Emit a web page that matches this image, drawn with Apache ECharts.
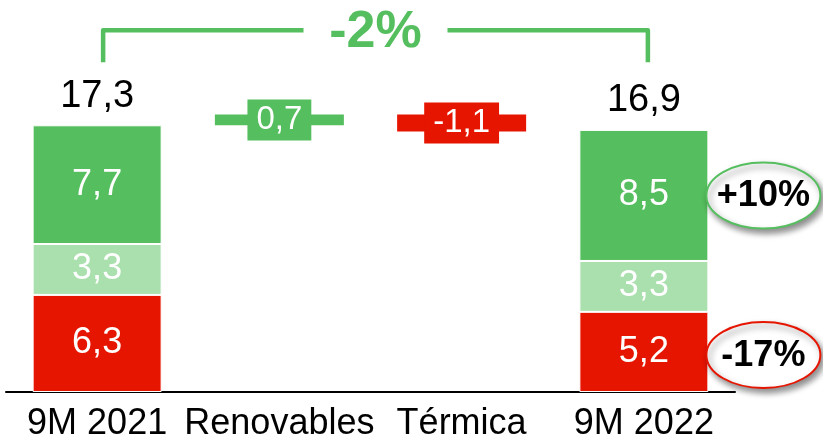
<!DOCTYPE html>
<html>
<head>
<meta charset="utf-8">
<script src="https://cdn.jsdelivr.net/npm/echarts@6/dist/echarts.min.js"></script>
<style>
html,body{margin:0;padding:0;background:#fff}
#main{width:823px;height:443px}
</style>
</head>
<body>
<div id="main"></div>
<script>
//datos del grafico
var categories=['9M 2021','Renovables','Térmica','9M 2022'];
var termica=[6.3,'-','-',5.2];
var nuclear=[3.3,'-','-',3.3];
var renovables=[7.7,'-','-',8.5];
var totals=[17.3,'-','-',16.9];
var bridge=['-',0.7,-1.1,'-'];
var pctTotal='-2%';
var pctRenov='+10%';
var pctTermica='-17%';

var VERDE='#55be5e';
var VERDE_CLARO='#aadfae';
var ROJO='#e61500';
var FONT='"Liberation Sans", Arial, sans-serif';

function fmt(v){
	return v.toFixed(1).replace('.',',');
}

/*
*base invisible del puente
*/
var bridgeBase=[];
var bridgeBars=[];
var running=totals[0];
for(var i=0;i<categories.length;i++){
	var d=bridge[i];
	if(d==='-'){
		bridgeBase.push('-');
		bridgeBars.push('-');
		continue;
	}
	var col=d>=0?VERDE:ROJO;
	bridgeBase.push(d>=0?running:running+d);
	bridgeBars.push({value:Math.abs(d),itemStyle:{color:col},label:{backgroundColor:col}});
	running+=d;
}
var topZero=totals.map(function(t){return t==='-'?'-':0;});

var segLabel={
	show:true,
	position:'inside',
	color:'#fff',
	fontFamily:FONT,
	fontSize:36,
	formatter:function(p){return fmt(p.value);}
};

var chart=echarts.init(document.getElementById('main'));
var option={
	animation:false,
	grid:{left:6,right:88,top:22,bottom:51},
	xAxis:{
		type:'category',
		data:categories,
		axisLine:{show:true,lineStyle:{color:'#000',width:2}},
		axisTick:{show:false},
		axisLabel:{interval:0,color:'#000',fontFamily:FONT,fontSize:36,margin:14}
	},
	yAxis:{type:'value',min:0,max:24,show:false},
	series:[
		{
			name:'Térmica',type:'bar',stack:'a',barWidth:129,
			data:termica,
			itemStyle:{color:ROJO,borderColor:'#fff',borderWidth:1},
			label:segLabel
		},
		{
			name:'Nuclear',type:'bar',stack:'a',
			data:nuclear,
			itemStyle:{color:VERDE_CLARO,borderColor:'#fff',borderWidth:1},
			label:segLabel
		},
		{
			name:'Renovables',type:'bar',stack:'a',
			data:renovables,
			itemStyle:{color:VERDE,borderColor:'#fff',borderWidth:1},
			label:segLabel
		},
		{
			name:'base',type:'bar',stack:'a',
			data:bridgeBase,
			itemStyle:{color:'rgba(0,0,0,0)'},
			silent:true
		},
		{
			name:'puente',type:'bar',stack:'a',
			data:bridgeBars,
			label:{
				show:true,
				position:'inside',
				color:'#fff',
				fontFamily:FONT,
				fontSize:33,
				lineHeight:33,
				padding:[4,9,4,9],
				formatter:function(p){return fmt(bridge[p.dataIndex]);}
			}
		},
		{
			name:'total',type:'bar',stack:'a',
			data:topZero,
			itemStyle:{color:'rgba(0,0,0,0)',borderWidth:0},
			label:{
				show:true,
				position:'top',
				distance:10,
				color:'#000',
				fontFamily:FONT,
				fontSize:38,
				formatter:function(p){return fmt(totals[p.dataIndex]);}
			}
		}
	]
};
chart.setOption(option);

/*
*anotaciones: corchete y elipses
*/
function px(cat,val){
	return chart.convertToPixel({gridIndex:0},[cat,val]);
}
var last=categories.length-1;
var pL=px(0,totals[0]);
var pR=px(last,totals[last]);
var xL=pL[0]+6;
var xR=pR[0]+4;
var yTop=pL[1]-95;
var yBot=pL[1]-63;
var xMid=(xL+xR)/2;
var gap=72;
var lineStyle={stroke:VERDE,lineWidth:4.5,lineJoin:'round',lineCap:'butt',fill:null};

var barRight=pR[0]+64.5;
var rx=57,ry=33;
var cx=barRight-2+rx;
var yRen=px(last,termica[last]+nuclear[last]+renovables[last]/2)[1];
var yTer=px(last,termica[last]/2)[1]+3;

function bubble(cy,txt,col){
	return [
		{type:'ellipse',shape:{cx:cx,cy:cy,rx:rx,ry:ry},z:10,
			style:{fill:'#fff',stroke:col,lineWidth:2,shadowBlur:6,shadowOffsetX:3,shadowOffsetY:4,shadowColor:'rgba(0,0,0,0.45)'}},
		{type:'text',x:cx,y:cy+1,z:11,
			style:{text:txt,font:'bold 36px '+FONT,fill:'#000',align:'center',verticalAlign:'middle'}}
	];
}

var graphics=[
	{type:'polyline',shape:{points:[[xL,yBot],[xL,yTop],[xMid-gap,yTop]]},style:lineStyle},
	{type:'polyline',shape:{points:[[xMid+gap,yTop],[xR,yTop],[xR,yBot]]},style:lineStyle},
	{type:'text',x:xMid,y:yTop+2,
		style:{text:pctTotal,font:'bold 52px '+FONT,fill:VERDE,align:'center',verticalAlign:'middle'}}
].concat(bubble(yRen,pctRenov,VERDE)).concat(bubble(yTer,pctTermica,ROJO));

chart.setOption({graphic:graphics});
</script>
</body>
</html>
